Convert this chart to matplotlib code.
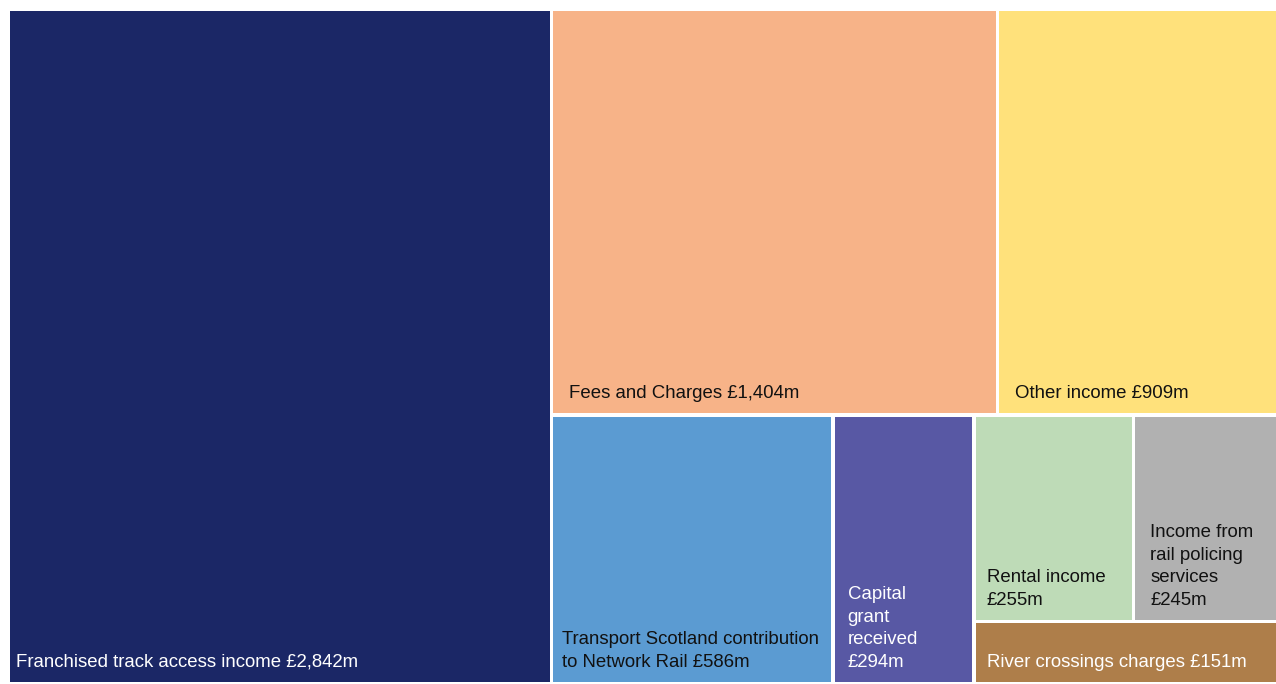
import matplotlib
matplotlib.use("Agg")
import matplotlib.pyplot as plt
from matplotlib.patches import Rectangle

plt.rcParams['font.family'] = ['Liberation Sans', 'DejaVu Sans']

# income streams, £m
names = ["franchised", "fees", "other", "transport", "capital",
         "rental", "policing", "river"]
values = [2842, 1404, 909, 586, 294, 255, 245, 151]
labels = [
    "Franchised track access income £2,842m",
    "Fees and Charges £1,404m",
    "Other income £909m",
    "Transport Scotland contribution\nto Network Rail £586m",
    "Capital\ngrant\nreceived\n£294m",
    "Rental income\n£255m",
    "Income from\nrail policing\nservices\n£245m",
    "River crossings charges £151m",
]
colors = ["#1b2766", "#f7b388", "#ffe17b", "#5b9bd2", "#5858a4",
          "#bedbb7", "#b1b1b1", "#ae7e4a"]
text_colors = ["white", "#111111", "#111111", "#111111", "white",
               "#111111", "#111111", "white"]
# left padding of the label inside each box (px)
xpads = [6, 16, 16, 9, 13, 11, 15, 11]

val = dict(zip(names, values))

# slice-and-dice structure: 'h' splits side by side, 'v' stacks top to bottom
tree = ('h', ["franchised",
              ('v', [('h', ["fees", "other"]),
                     ('h', ["transport", "capital",
                            ('v', [('h', ["rental", "policing"]), "river"])])])])


def total(node):
    if isinstance(node, str):
        return val[node]
    return sum(total(c) for c in node[1])


def layout(node, x, y, w, h, out):
    if isinstance(node, str):
        out[node] = (x, y, w, h)
        return
    kind, kids = node
    s = total(node)
    pos = x if kind == 'h' else y
    for k in kids:
        frac = total(k) / s
        if kind == 'h':
            layout(k, pos, y, w * frac, h, out)
            pos += w * frac
        else:
            layout(k, x, pos, w, h * frac, out)
            pos += h * frac


W, H = 1276, 684
fig = plt.figure(figsize=(W / 100, H / 100), dpi=100)
ax = fig.add_axes([0, 0, 1, 1])
ax.set_xlim(0, W)
ax.set_ylim(H, 0)
ax.axis('off')

# the treemap runs a little past the right edge of the picture
rects = {}
layout(tree, 8.5, 9.5, 1278, 674, rects)
gap = 1.7
for i, n in enumerate(names):
    x, y, w, h = rects[n]
    ax.add_patch(Rectangle((x + gap, y + gap), w - 2 * gap, h - 2 * gap,
                           facecolor=colors[i], edgecolor='none'))
    ax.text(x + gap + xpads[i], y + h - gap - 11, labels[i],
            color=text_colors[i], fontsize=13.4, ha='left', va='bottom',
            linespacing=1.42)

fig.savefig("out.png", dpi=100)
